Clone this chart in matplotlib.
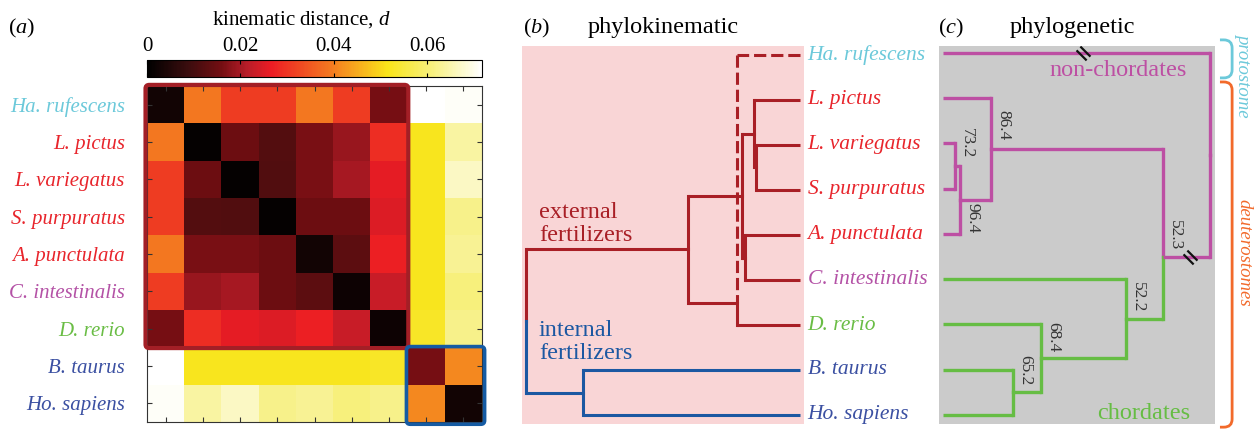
import numpy as np
import matplotlib
matplotlib.use('Agg')
import matplotlib.pyplot as plt
from matplotlib.colors import LinearSegmentedColormap
from matplotlib.patches import FancyBboxPatch, PathPatch
from matplotlib.path import Path
from matplotlib.transforms import blended_transform_factory

plt.rcParams['font.family'] = ['Liberation Serif', 'DejaVu Serif']
plt.rcParams['mathtext.fontset'] = 'custom'
plt.rcParams['mathtext.rm'] = 'Liberation Serif'
plt.rcParams['mathtext.it'] = 'Liberation Serif:italic'

species = ['Ha. rufescens', 'L. pictus', 'L. variegatus', 'S. purpuratus', 'A. punctulata',
           'C. intestinalis', 'D. rerio', 'B. taurus', 'Ho. sapiens']
species_group = ['proto', 'urchin', 'urchin', 'urchin', 'urchin', 'tunicate', 'fish', 'mammal', 'mammal']

# kinematic distance matrix (panel a)
kin_dist = [
    [0.003, 0.039, 0.031, 0.031, 0.039, 0.031, 0.016, 0.0718, 0.071],
    [0.039, 0.001, 0.015, 0.012, 0.0165, 0.019, 0.029, 0.052, 0.064],
    [0.031, 0.015, 0.001, 0.0115, 0.0165, 0.020, 0.026, 0.052, 0.067],
    [0.031, 0.012, 0.0115, 0.001, 0.015, 0.015, 0.025, 0.052, 0.062],
    [0.039, 0.0165, 0.0165, 0.015, 0.003, 0.013, 0.027, 0.052, 0.063],
    [0.031, 0.019, 0.020, 0.015, 0.013, 0.002, 0.023, 0.052, 0.061],
    [0.016, 0.029, 0.026, 0.025, 0.027, 0.023, 0.002, 0.053, 0.062],
    [0.0718, 0.052, 0.052, 0.052, 0.052, 0.052, 0.053, 0.016, 0.041],
    [0.071, 0.064, 0.067, 0.062, 0.063, 0.061, 0.062, 0.041, 0.003],
]
cbar_ticks = [0, 0.02, 0.04, 0.06]
cbar_tick_labels = ['0', '0.02', '0.04', '0.06']
d_max = 0.0718

# panel b: phylokinematic tree, links like a linkage matrix (child, child, height)
b_links = [
    (2, 3, 0.0097),    # 9
    (1, 9, 0.0101),    # 10
    (4, 5, 0.0120),    # 11
    (10, 11, 0.0127),  # 12
    (0, 6, 0.0138),    # 13 (Ha. rufescens placed with dashed branch)
    (12, 13, 0.0245),  # 14 external fertilizers
    (7, 8, 0.0475),    # 15 internal fertilizers
    (14, 15, 0.0600),  # 16 root
]
b_node_y_override = {13: 5.5}
b_dashed = [0]
b_group = ['ext'] * 7 + ['int'] * 2 + ['ext'] * 6 + ['int', 'ext']

# panel c: phylogenetic tree (relative branch depth)
c_links = [
    (2, 3, 0.045),    # 9
    (9, 4, 0.064),    # 10
    (1, 10, 0.180),   # 11
    (7, 8, 0.262),    # 12
    (6, 12, 0.367),   # 13
    (5, 13, 0.685),   # 14
    (11, 14, 0.824),  # 15 deuterostomes
    (0, 15, 1.000),   # 16 root
]
c_node_y_override = {15: 4.5}
c_group = ['non'] * 5 + ['chord'] * 4 + ['non'] * 3 + ['chord'] * 3 + ['non', 'non']
c_support = {9: '73.2', 10: '96.4', 11: '86.4', 12: '65.2', 13: '68.4', 14: '52.2', 15: '52.3'}
c_support_y = {9: 1.66, 10: 3.31, 11: 1.26, 12: 6.67, 13: 5.94, 14: 5.06, 15: 3.69}
c_breaks_x = [0.524, 0.925]
c_breaks_y = [0.0, 4.5]

label_colors = {'proto': '#6cc9da', 'urchin': '#e8252c', 'tunicate': '#b452a6',
                'fish': '#6abd45', 'mammal': '#3b50a2'}
b_colors = {'ext': '#a91f26', 'int': '#1c58a2'}
c_colors = {'non': '#bd4fa3', 'chord': '#66bd44'}

# hot-like colour scale as printed in the figure
heat = LinearSegmentedColormap.from_list('heat', [
    (0.0, '#000000'), (0.12, '#3a0d0e'), (0.22, '#730e12'), (0.30, '#b91d29'),
    (0.37, '#ec1c24'), (0.55, '#f47a20'), (0.72, '#f9e51a'), (0.85, '#f7f07c'),
    (1.0, '#ffffff')])

W, H = 1256, 430
fig = plt.figure(figsize=(W / 100, H / 100), dpi=100)


def fax(x0, y0, x1, y1):
    return fig.add_axes([x0 / W, 1 - y1 / H, (x1 - x0) / W, (y1 - y0) / H])


def layout(links, n, override):
    ys = [float(i) for i in range(n)]
    hs = [0.0] * n
    for k, (a, b, h) in enumerate(links):
        ys.append(override.get(n + k, (ys[a] + ys[b]) / 2))
        hs.append(h)
    return ys, hs


def draw_tree(ax, links, n, override, group, colors, lw, dashed=()):
    ys, hs = layout(links, n, override)
    for k, (a, b, h) in enumerate(links):
        node = n + k
        for child in (a, b):
            ls = (0, (4, 1.6)) if child in dashed else '-'
            ax.plot([hs[child], h], [ys[child], ys[child]], color=colors[group[child]],
                    lw=lw, ls=ls, solid_capstyle='butt')
            ax.plot([h, h], [ys[child], ys[node]], color=colors[group[child]],
                    lw=lw, ls=ls, solid_capstyle='projecting')
    return ys, hs


# ---------------- panel a ----------------
ax_a = fax(147, 86, 482, 422)
im = ax_a.imshow(np.array(kin_dist), cmap=heat, vmin=0, vmax=d_max, aspect='auto',
                 interpolation='nearest')
ax_a.set_xticks(range(len(species)))
ax_a.set_yticks(range(len(species)))
ax_a.set_xticklabels([])
ax_a.set_yticklabels(species, fontsize=15, style='italic')
for lab, g in zip(ax_a.get_yticklabels(), species_group):
    lab.set_color(label_colors[g])
ax_a.tick_params(direction='in', top=True, right=True, length=3.5, width=0.8,
                 color='#333333', pad=16)
for sp in ax_a.spines.values():
    sp.set_linewidth(0.8)
    sp.set_color('#333333')
ax_a.add_patch(FancyBboxPatch((-0.54, -0.53), 7.06, 7.05,
                              boxstyle='round,pad=0,rounding_size=0.1',
                              fill=False, ec='#a31f26', lw=3, clip_on=False, zorder=5))
ax_a.add_patch(FancyBboxPatch((6.47, 6.48), 2.1, 2.08,
                              boxstyle='round,pad=0,rounding_size=0.1',
                              fill=False, ec='#155ba3', lw=2.6, clip_on=False, zorder=5))

cax = fax(147, 60, 482, 77)
cb = fig.colorbar(im, cax=cax, orientation='horizontal')
cax.xaxis.set_ticks_position('both')
cax.xaxis.set_label_position('top')
cb.set_ticks(cbar_ticks)
cb.set_ticklabels(cbar_tick_labels)
cax.tick_params(direction='in', length=3, width=0.8, labelsize=15, pad=3,
                labeltop=True, labelbottom=False)
cb.outline.set_linewidth(0.8)

fig.text(8 / W, 1 - 33 / H, r'$(a)$', fontsize=16, va='baseline')
fig.text(301 / W, 1 - 25 / H, r'kinematic distance, $d$', fontsize=15, ha='center', va='baseline')

# ---------------- panel b ----------------
ax_b = fax(522, 46, 804, 424)
ax_b.set_facecolor('#f9d5d6')
draw_tree(ax_b, b_links, len(species), b_node_y_override, b_group, b_colors, 2.2, b_dashed)
ax_b.set_xlim(0.0609, -0.0009)
ax_b.set_ylim(8.2, -0.2)
ax_b.set_xticks([])
ax_b.set_yticks([])
for sp in ax_b.spines.values():
    sp.set_visible(False)
for i, (name, g) in enumerate(zip(species, species_group)):
    ax_b.annotate(name, (0, i), xytext=(5.5, 0), textcoords='offset points',
                  ha='left', va='center', fontsize=15.5, style='italic',
                  color=label_colors[g], annotation_clip=False)
ax_b.text(0.0572, 3.76, 'external\nfertilizers', fontsize=17.5, color=b_colors['ext'],
          ha='left', va='center', linespacing=1.1)
ax_b.text(0.0572, 6.38, 'internal\nfertilizers', fontsize=17.5, color=b_colors['int'],
          ha='left', va='center', linespacing=1.1)
fig.text(523 / W, 1 - 33 / H, r'$(b)$', fontsize=16, va='baseline')
fig.text(588 / W, 1 - 33 / H, 'phylokinematic', fontsize=17.5, va='baseline')

# ---------------- panel c ----------------
ax_c = fax(939, 46, 1215, 424)
ax_c.set_facecolor('#cbcbcb')
ys, hs = draw_tree(ax_c, c_links, len(species), c_node_y_override, c_group, c_colors, 2.4)
ax_c.set_xlim(-0.015, 1.019)
ax_c.set_ylim(8.2, -0.155)
ax_c.set_xticks([])
ax_c.set_yticks([])
for sp in ax_c.spines.values():
    sp.set_visible(False)
for node, txt in c_support.items():
    ax_c.annotate(txt, (hs[node], c_support_y[node]), xytext=(3, 0), textcoords='offset points',
                  rotation=270, ha='left', va='top', fontsize=12.5, color='#333333')

brk = Path([(-1, 0.45), (0.45, -1), (-0.45, 1), (1, -0.45)],
           [Path.MOVETO, Path.LINETO, Path.MOVETO, Path.LINETO])
ax_c.plot(c_breaks_x, c_breaks_y, ls='none', marker=brk, ms=10, mec='#111111', mew=1.6)

ax_c.text(0.914, 0.38, 'non-chordates', fontsize=17.5, color=c_colors['non'], ha='right', va='center')
ax_c.text(0.925, 7.96, 'chordates', fontsize=17.5, color=c_colors['chord'], ha='right', va='center')

# braces to the right of the tree
tr = blended_transform_factory(ax_c.transAxes, ax_c.transData)
braces = [(-0.29, 0.55, '#6cc9da', 'protostome', 0.49),
          (0.64, 8.27, '#f26a2b', 'deuterostomes', 4.42)]
x0, x1, rx, ry = 1.018, 1.062, 0.03, 0.18
for top, bot, col, name, ymid in braces:
    verts = [(x0, top), (x1 - rx, top), (x1, top), (x1, top + ry), (x1, bot - ry),
             (x1, bot), (x1 - rx, bot), (x0, bot)]
    codes = [Path.MOVETO, Path.LINETO, Path.CURVE3, Path.CURVE3, Path.LINETO,
             Path.CURVE3, Path.CURVE3, Path.LINETO]
    ax_c.add_patch(PathPatch(Path(verts, codes), fill=False, ec=col, lw=2, transform=tr,
                             clip_on=False))
    ax_c.text(1.105, ymid, name, transform=tr, rotation=270, ha='center', va='center',
              fontsize=13.5, style='italic', color=col, clip_on=False)

fig.text(938 / W, 1 - 33 / H, r'$(c)$', fontsize=16, va='baseline')
fig.text(1010 / W, 1 - 33 / H, 'phylogenetic', fontsize=17.5, va='baseline')

fig.savefig('out.png', dpi=100)
